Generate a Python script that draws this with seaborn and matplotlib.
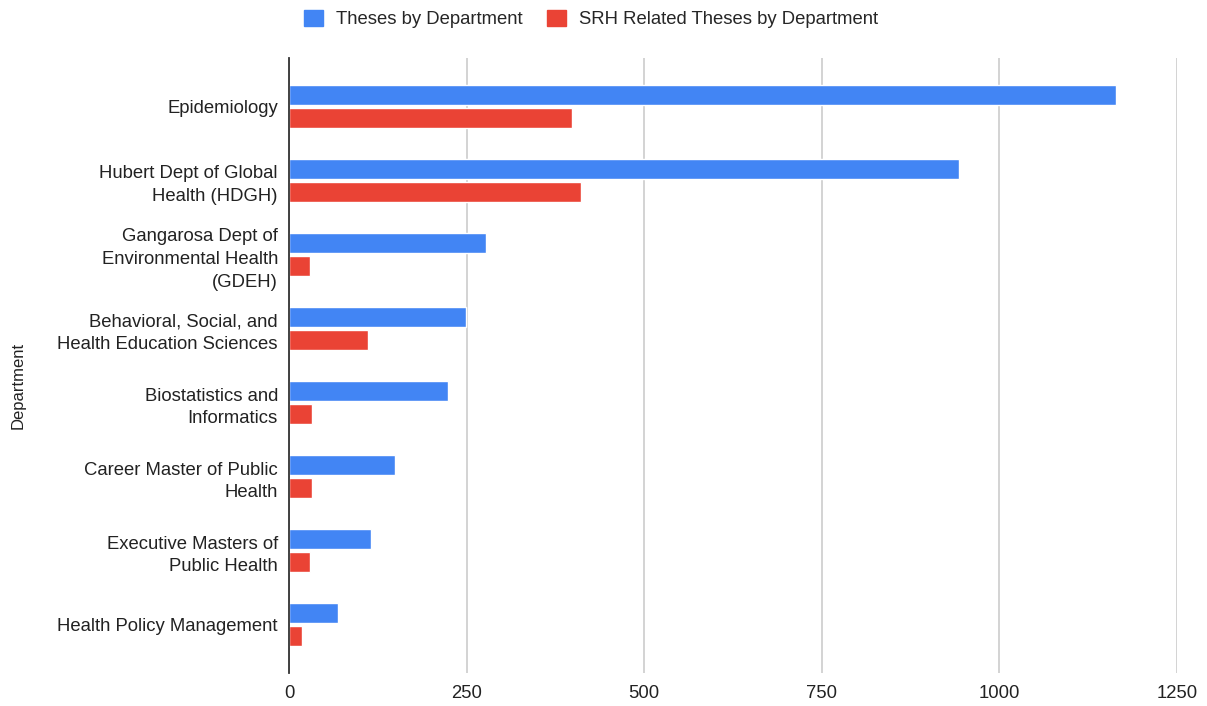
import matplotlib
matplotlib.use("Agg")
import matplotlib.pyplot as plt
import seaborn as sns
import pandas as pd

# Data
departments = [
    "Epidemiology",
    "Hubert Dept of Global\nHealth (HDGH)",
    "Gangarosa Dept of\nEnvironmental Health\n(GDEH)",
    "Behavioral, Social, and\nHealth Education Sciences",
    "Biostatistics and\nInformatics",
    "Career Master of Public\nHealth",
    "Executive Masters of\nPublic Health",
    "Health Policy Management",
]
theses = [1164, 943, 277, 249, 224, 149, 116, 69]
srh_theses = [399, 411, 29, 111, 32, 33, 29, 18]
series_names = ["Theses by Department", "SRH Related Theses by Department"]
x_ticks = [0, 250, 500, 750, 1000, 1250]

BLUE = "#4285F4"
RED = "#EA4335"

df = pd.DataFrame({
    "Department": departments * 2,
    "Count": theses + srh_theses,
    "Series": [series_names[0]] * len(departments) + [series_names[1]] * len(departments),
})

sns.set_theme(style="white")
plt.rcParams["font.family"] = ["Liberation Sans", "DejaVu Sans"]

W, H = 1207, 706
fig = plt.figure(figsize=(W / 100, H / 100), dpi=100)
ax = fig.add_axes([289 / W, (H - 673) / H, (1177 - 289) / W, (673 - 58) / H])

sns.barplot(data=df, y="Department", x="Count", hue="Series", orient="h",
            palette=[BLUE, RED], width=0.6, gap=0.1, ax=ax, legend=False,
            saturation=1)

ax.set_xlim(0, 1250)
ax.set_ylim(7.655, -0.655)
ax.set_xticks(x_ticks)
ax.set_xticklabels([str(t) for t in x_ticks])
ax.xaxis.grid(True, color="#cccccc", linewidth=1.2)
ax.set_axisbelow(True)
for side in ["top", "right", "bottom"]:
    ax.spines[side].set_visible(False)
ax.spines["left"].set_color("#333333")
ax.spines["left"].set_linewidth(1.3)
ax.tick_params(axis="both", length=0, labelsize=13.3, colors="#222222")
ax.tick_params(axis="x", pad=9)
ax.tick_params(axis="y", pad=8)
for lbl in ax.get_yticklabels():
    lbl.set_linespacing(1.45)
ax.set_xlabel("")
ax.set_ylabel("Department", fontsize=12, color="#222222")
ax.yaxis.set_label_coords(-263 / (1177 - 289), 0.468)

handles = [plt.Rectangle((0, 0), 1, 1, color=c) for c in (BLUE, RED)]
fig.legend(handles, series_names, loc="center", bbox_to_anchor=(591 / W, 1 - 19 / H),
           ncol=2, frameon=False, fontsize=13.3, handlelength=1.0, handleheight=1.0,
           columnspacing=1.35, handletextpad=0.7)

fig.savefig("out.png", dpi=100)
